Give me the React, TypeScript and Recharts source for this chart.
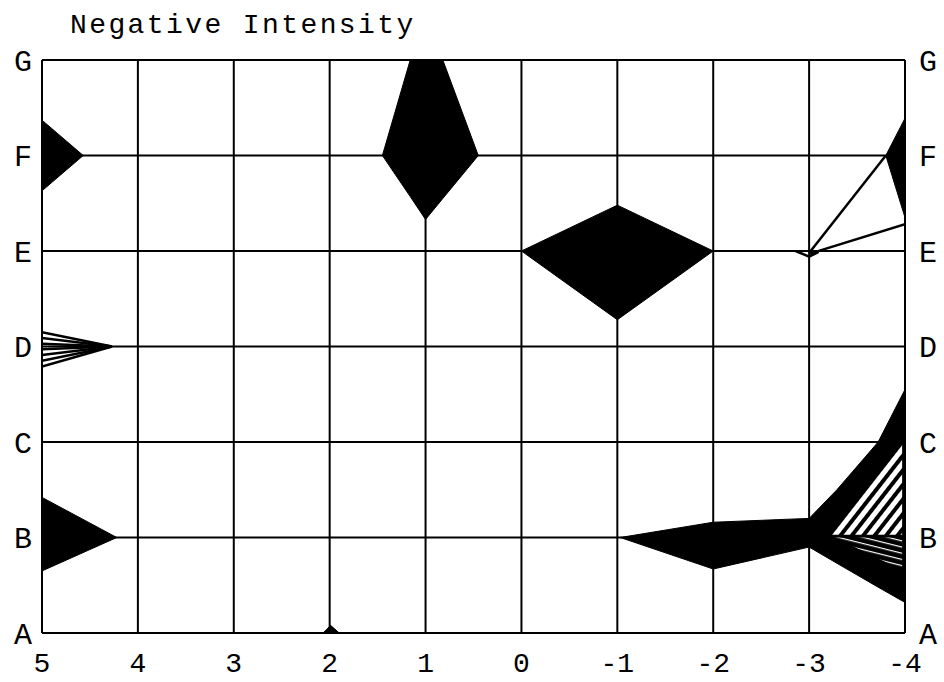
import React from 'react';
import { ComposedChart, Area, Line, XAxis, YAxis, CartesianGrid } from 'recharts';

// axis labels
const xTicks = [5, 4, 3, 2, 1, 0, -1, -2, -3, -4];
const yTicks = [0, 1, 2, 3, 4, 5, 6];
const yLabels = ['A', 'B', 'C', 'D', 'E', 'F', 'G'];

// filled shapes, r = [low, high] on the A..G scale (A = 0)
const fLeft = [
  { x: 5, r: [4.63, 5.37] },
  { x: 4.57, r: [5, 5] },
];
const bLeft = [
  { x: 5, r: [0.65, 1.42] },
  { x: 4.22, r: [1, 1] },
];
const fDiamond = [
  { x: 1.45, r: [5, 5] },
  { x: 1.16, r: [4.57, 6] },
  { x: 1.0, r: [4.33, 6] },
  { x: 0.82, r: [4.55, 6] },
  { x: 0.45, r: [5, 5] },
];
const eDiamond = [
  { x: 0, r: [4, 4] },
  { x: -1, r: [3.28, 4.48] },
  { x: -2, r: [4, 4] },
];
const aBlip = [
  { x: 2.07, r: [0, 0] },
  { x: 1.99, r: [0, 0.08] },
  { x: 1.9, r: [0, 0] },
];
const bRight = [
  { x: -1.03, r: [1, 1] },
  { x: -2, r: [0.67, 1.16] },
  { x: -3, r: [0.9, 1.2] },
  { x: -3.29, r: [0.73, 1.5] },
  { x: -3.72, r: [0.48, 2.0] },
  { x: -4, r: [0.32, 2.55] },
];
const bHatchUpper = [
  { x: -3.22, r: [1.03, 1.03] },
  { x: -3.97, r: [1.03, 1.99] },
];
const bHatchLower = [
  { x: -3.27, r: [1.0, 1.0] },
  { x: -3.97, r: [0.66, 1.0] },
];
const fRight = [
  { x: -3.8, r: [5, 5] },
  { x: -4, r: [4.35, 5.39] },
];

// open lines
const eFanUpper = [
  { x: -3, y: 3.98 },
  { x: -3.8, y: 5 },
];
const eFanLower = [
  { x: -3, y: 3.97 },
  { x: -4, y: 4.28 },
];
const eLoop = [
  { x: -2.86, y: 4.0 },
  { x: -3.0, y: 3.94 },
  { x: -3.1, y: 3.99 },
];
const dFanStarts = [3.15, 3.09, 3.03, 2.97, 2.91, 2.85, 2.79];
const dFanApex = { x: 4.27, y: 3 };

const font = 'Liberation Mono, Courier New, monospace';
const yTickStyle = { fill: '#000', fontSize: 30, fontFamily: font };
const xTickStyle = { fill: '#000', fontSize: 28, fontFamily: font };

const App = () => {
  const solid = (key: string, data: any[]) => (
    <Area
      key={key}
      data={data}
      dataKey="r"
      yAxisId="l"
      type="linear"
      fill="#000"
      fillOpacity={1}
      stroke="#000"
      strokeWidth={1}
      dot={false}
      activeDot={false}
      isAnimationActive={false}
    />
  );

  return (
    <div style={{ position: 'absolute', left: 0, top: 0, width: 944, height: 682, background: '#fff' }}>
      <div
        style={{
          position: 'absolute',
          left: 70,
          top: 12,
          fontFamily: font,
          fontSize: 28,
          lineHeight: 1,
          letterSpacing: 2.4,
          color: '#000',
          whiteSpace: 'nowrap',
        }}
      >
        Negative Intensity
      </div>
      <ComposedChart width={944} height={682} margin={{ top: 60, right: 0, bottom: 0, left: 0 }}>
        <defs>
          <pattern id="hatchA" patternUnits="userSpaceOnUse" width={9} height={9} patternTransform="rotate(38)">
            <rect width={9} height={9} fill="#fff" />
            <rect x={0} y={0} width={4} height={9} fill="#000" />
          </pattern>
          <pattern id="hatchB" patternUnits="userSpaceOnUse" width={6} height={6} patternTransform="rotate(14)">
            <rect width={6} height={6} fill="#000" />
            <rect x={0} y={0} width={6} height={1.2} fill="#fff" />
          </pattern>
        </defs>
        <CartesianGrid yAxisId="l" stroke="#000" strokeWidth={2} strokeOpacity={1} />
        <XAxis
          dataKey="x"
          type="number"
          domain={[-4, 5]}
          reversed
          ticks={xTicks}
          interval={0}
          height={49}
          tickLine={false}
          tickSize={0}
          tickMargin={19}
          axisLine={{ stroke: '#000', strokeWidth: 2 }}
          tick={xTickStyle}
          allowDataOverflow
        />
        <YAxis
          yAxisId="l"
          type="number"
          domain={[0, 6]}
          ticks={yTicks}
          interval={0}
          width={42}
          tickLine={false}
          tickSize={0}
          tickMargin={10}
          axisLine={{ stroke: '#000', strokeWidth: 2 }}
          tick={yTickStyle}
          tickFormatter={(v: number) => yLabels[v]}
          allowDataOverflow
        />
        <YAxis
          yAxisId="r"
          orientation="right"
          type="number"
          domain={[0, 6]}
          ticks={yTicks}
          interval={0}
          width={39}
          tickLine={false}
          tickSize={0}
          tickMargin={14}
          axisLine={{ stroke: '#000', strokeWidth: 2 }}
          tick={yTickStyle}
          tickFormatter={(v: number) => yLabels[v]}
          allowDataOverflow
        />
        {solid('fLeft', fLeft)}
        {solid('bLeft', bLeft)}
        {solid('fDiamond', fDiamond)}
        {solid('eDiamond', eDiamond)}
        {solid('aBlip', aBlip)}
        {solid('bRight', bRight)}
        {solid('fRight', fRight)}
        <Area
          data={bHatchUpper}
          dataKey="r"
          yAxisId="l"
          type="linear"
          fill="url(#hatchA)"
          fillOpacity={1}
          stroke="none"
          dot={false}
          activeDot={false}
          isAnimationActive={false}
        />
        <Area
          data={bHatchLower}
          dataKey="r"
          yAxisId="l"
          type="linear"
          fill="url(#hatchB)"
          fillOpacity={1}
          stroke="none"
          dot={false}
          activeDot={false}
          isAnimationActive={false}
        />
        {[eFanUpper, eFanLower, eLoop].map((d, i) => (
          <Line
            key={`eline-${i}`}
            data={d}
            dataKey="y"
            yAxisId="l"
            type="linear"
            stroke="#000"
            strokeWidth={2.5}
            dot={false}
            activeDot={false}
            isAnimationActive={false}
          />
        ))}
        {dFanStarts.map((s, i) => (
          <Line
            key={`dfan-${i}`}
            data={[{ x: 5, y: s }, dFanApex]}
            dataKey="y"
            yAxisId="l"
            type="linear"
            stroke="#000"
            strokeWidth={2.5}
            dot={false}
            activeDot={false}
            isAnimationActive={false}
          />
        ))}
      </ComposedChart>
    </div>
  );
};

export default App;
